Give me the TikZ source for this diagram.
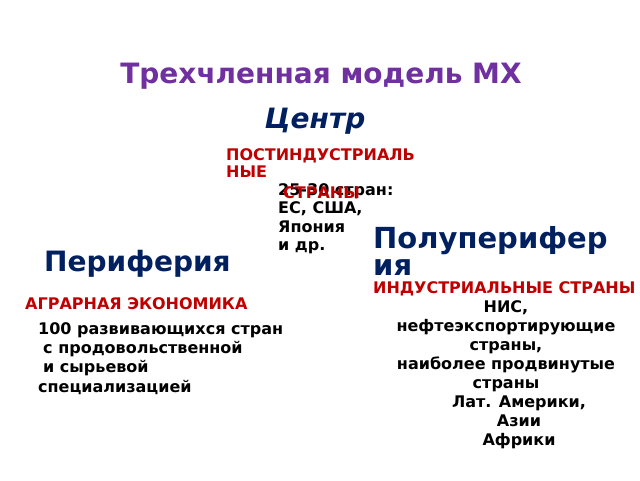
\documentclass[tikz,border=0pt]{standalone}
\usepackage{fontspec}
\setmainfont{DejaVu Sans}
\definecolor{ttl}{HTML}{7030A0}
\definecolor{dblue}{HTML}{002060}
\definecolor{dred}{HTML}{C00000}
\tikzset{
  lbl/.style={inner sep=0pt, font=\bfseries\fontsize{16}{18.9}\selectfont, text=black},
  redlbl/.style={inner sep=0pt, font=\bfseries\fontsize{16}{17.5}\selectfont, text=dred},
  head/.style={inner sep=0pt, font=\bfseries\fontsize{28}{27}\selectfont, text=dblue},
}
\begin{document}
\begin{tikzpicture}[x=1pt,y=-1pt]
\useasboundingbox[fill=white] (0,0) rectangle (640,480);
\node[inner sep=0pt, anchor=base, font=\bfseries\fontsize{28}{30}\selectfont, text=ttl] (title) at (321,83) {Трехчленная модель МХ};
\node[head, anchor=base, font=\bfseries\itshape\fontsize{28}{30}\selectfont] (centr) at (315,128) {Центр};
\node[redlbl, anchor=base west, align=left] (post) at (226,177.5) {ПОСТИНДУСТРИАЛЬ\\НЫЕ};
\node[lbl, anchor=base west, align=left, font=\bfseries\fontsize{16}{18.5}\selectfont] (c1) at (278,250.5) {25-30 стран:\\ЕС, США,\\Япония\\и др.};
\node[redlbl, anchor=base west] (post2) at (283,198) {СТРАНЫ};
\node[head, anchor=base west, align=left, font=\bfseries\fontsize{29}{27}\selectfont] (poluper) at (373,275) {Полуперифер\\ия};
\node[head, anchor=base west] (per) at (44,271) {Периферия};
\node[redlbl, anchor=base west] (ind) at (373,293) {ИНДУСТРИАЛЬНЫЕ СТРАНЫ};
\node[lbl, anchor=base, align=center] (nis) at (506,445) {НИС,\\нефтеэкспортирующие\\страны,\\наиболее продвинутые\\страны\\\hspace*{26pt}Лат. Америки,\\\hspace*{26pt}Азии\\\hspace*{26pt}Африки};
\node[redlbl, anchor=base west] (agr) at (25,309) {АГРАРНАЯ ЭКОНОМИКА};
\node[lbl, anchor=base west, align=left, font=\bfseries\fontsize{16}{19.3}\selectfont] (dev) at (38,392) {100 развивающихся стран\\\hspace*{5pt}с продовольственной\\\hspace*{5pt}и сырьевой\\специализацией};
\end{tikzpicture}
\end{document}
